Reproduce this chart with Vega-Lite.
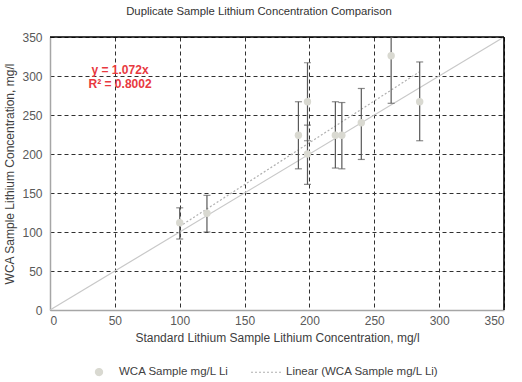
{
  "$schema": "https://vega.github.io/schema/vega-lite/v6.json",
  "width": 454,
  "height": 273,
  "autosize": {"type": "none"},
  "padding": {"left": 50, "top": 37, "right": 18, "bottom": 72},
  "title": {"text": "Duplicate Sample Lithium Concentration Comparison", "fontSize": 11.3, "fontWeight": "normal", "color": "#333333", "offset": 14, "dx": -18, "anchor": "middle"},
  "config": {
    "font": "Liberation Sans",
    "view": {"stroke": null},
    "axis": {"labelFontSize": 12, "labelColor": "#595959", "titleFontSize": 12, "titleFontWeight": "normal", "titleColor": "#404040", "ticks": false, "domainColor": "#a6a6a6", "domainWidth": 1.5, "grid": true, "gridColor": "#303030", "gridDash": [4, 3], "gridWidth": 1}
  },
  "datasets": {
    "pts": [
      {"x": 100, "y": 112, "lo": 91, "hi": 131, "series": "WCA Sample mg/L Li"},
      {"x": 121, "y": 124, "lo": 100, "hi": 147, "series": "WCA Sample mg/L Li"},
      {"x": 191.5, "y": 224, "lo": 181, "hi": 267, "series": "WCA Sample mg/L Li"},
      {"x": 198.5, "y": 267, "lo": 217, "hi": 317, "series": "WCA Sample mg/L Li"},
      {"x": 198.5, "y": 200, "lo": 161, "hi": 237, "series": "WCA Sample mg/L Li"},
      {"x": 220, "y": 224, "lo": 182, "hi": 267, "series": "WCA Sample mg/L Li"},
      {"x": 225, "y": 224, "lo": 181, "hi": 266, "series": "WCA Sample mg/L Li"},
      {"x": 240, "y": 240, "lo": 193, "hi": 284, "series": "WCA Sample mg/L Li"},
      {"x": 263, "y": 326, "lo": 265, "hi": 388, "series": "WCA Sample mg/L Li"},
      {"x": 285, "y": 267, "lo": 217, "hi": 318, "series": "WCA Sample mg/L Li"}
    ],
    "trend": [
      {"x": 100, "y": 107.2, "series": "Linear (WCA Sample mg/L Li)"},
      {"x": 285, "y": 305.5, "series": "Linear (WCA Sample mg/L Li)"}
    ],
    "ident": [{"x": 0, "y": 0}, {"x": 350, "y": 350}],
    "eq": [{"x": 54, "y": 308, "t": "y = 1.072x"}, {"x": 54, "y": 290, "t": "R² = 0.8002"}]
  },
  "encoding": {
    "x": {"field": "x", "type": "quantitative", "scale": {"domain": [0, 350], "nice": false}, "axis": {"title": "Standard Lithium Sample Lithium Concentration, mg/l", "values": [0, 50, 100, 150, 200, 250, 300, 350], "labelPadding": 5, "titlePadding": 6}},
    "y": {"field": "y", "type": "quantitative", "scale": {"domain": [0, 350], "nice": false}, "axis": {"title": "WCA Sample Lithium Concentration, mg/l", "values": [0, 50, 100, 150, 200, 250, 300, 350], "labelPadding": 8, "titlePadding": 5}}
  },
  "layer": [
    {
      "data": {"name": "ident"},
      "mark": {"type": "line", "color": "#c8c8c8", "strokeWidth": 1.2}
    },
    {
      "data": {"name": "ident"},
      "transform": [{"filter": "datum.x == 350"}],
      "mark": {"type": "rule", "color": "#000000", "strokeWidth": 1.6},
      "encoding": {"x": {"field": "x", "type": "quantitative"}, "y": {"field": "y", "type": "quantitative"}, "x2": {"value": 0}}
    },
    {
      "data": {"name": "ident"},
      "transform": [{"filter": "datum.x == 350"}],
      "mark": {"type": "rule", "color": "#000000", "strokeWidth": 1.6},
      "encoding": {"x": {"field": "x", "type": "quantitative"}, "y": {"field": "y", "type": "quantitative"}, "y2": {"value": 273}}
    },
    {
      "data": {"name": "trend"},
      "mark": {"type": "line", "strokeDash": [2, 2], "strokeWidth": 1.2},
      "encoding": {
        "color": {"field": "series", "type": "nominal", "scale": {"domain": ["WCA Sample mg/L Li", "Linear (WCA Sample mg/L Li)"], "range": ["#d9d9d1", "#b0b0b0"]},
          "legend": {"title": null, "orient": "none", "legendX": 33, "legendY": 319, "direction": "horizontal", "padding": 0, "symbolSize": 100, "labelOffset": 4, "columnPadding": 19, "labelFontSize": 11.5, "labelColor": "#404040",
            "encode": {"symbols": {"update": {
              "shape": {"signal": "datum.value === 'WCA Sample mg/L Li' ? 'circle' : 'stroke'"},
              "size": {"signal": "datum.value === 'WCA Sample mg/L Li' ? 50 : 900"},
              "fill": {"signal": "datum.value === 'WCA Sample mg/L Li' ? '#d9d9d1' : 'transparent'"},
              "stroke": {"signal": "datum.value === 'WCA Sample mg/L Li' ? 'transparent' : '#b0b0b0'"},
              "strokeDash": {"signal": "datum.value === 'WCA Sample mg/L Li' ? [1,0] : [2,2]"},
              "strokeWidth": {"value": 1.2},
              "opacity": {"value": 1}
            }}}}
        }
      }
    },
    {
      "data": {"name": "pts"},
      "mark": {"type": "rule", "color": "#595959", "strokeWidth": 1.2, "clip": true},
      "encoding": {
        "y": {"field": "lo", "type": "quantitative"},
        "y2": {"field": "hi"}
      }
    },
    {
      "data": {"name": "pts"},
      "mark": {"type": "tick", "orient": "horizontal", "color": "#595959", "size": 7, "thickness": 1.2, "clip": true},
      "encoding": {
        "y": {"field": "lo", "type": "quantitative"}
      }
    },
    {
      "data": {"name": "pts"},
      "mark": {"type": "tick", "orient": "horizontal", "color": "#595959", "size": 7, "thickness": 1.2, "clip": true},
      "encoding": {
        "y": {"field": "hi", "type": "quantitative"}
      }
    },
    {
      "data": {"name": "pts"},
      "mark": {"type": "point", "shape": "circle", "filled": true, "size": 55, "opacity": 1},
      "encoding": {
        "color": {"field": "series", "type": "nominal"}
      }
    },
    {
      "data": {"name": "eq"},
      "mark": {"type": "text", "color": "#e8393f", "fontWeight": "bold", "fontSize": 12, "align": "center", "baseline": "middle"},
      "encoding": {
        "text": {"field": "t"}
      }
    }
  ]
}
